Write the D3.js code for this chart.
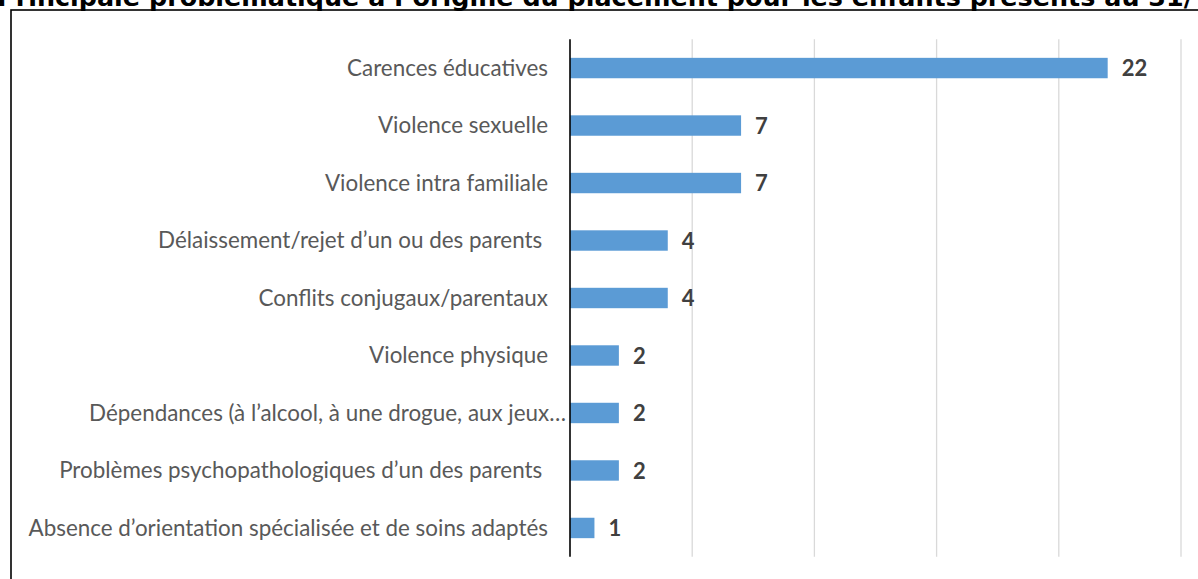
<!DOCTYPE html>
<html>
<head>
<meta charset="utf-8">
<script src="https://cdn.jsdelivr.net/npm/d3@7"></script>
<style>
  body { margin: 0; background: #fff; }
  svg { display: block; }
  text { white-space: pre; }
</style>
</head>
<body>
<svg id="chart"></svg>
<script>
// data
var categories = [
  "Carences éducatives",
  "Violence sexuelle",
  "Violence intra familiale",
  "Délaissement/rejet d’un ou des parents ",
  "Conflits conjugaux/parentaux",
  "Violence physique",
  "Dépendances (à l’alcool, à une drogue, aux jeux…",
  "Problèmes psychopathologiques d’un des parents ",
  "Absence d’orientation spécialisée et de soins adaptés"
];
var values = [22, 7, 7, 4, 4, 2, 2, 2, 1];
var ticks = [0, 5, 10, 15, 20, 25];
var titleStart = "Principale problématique à l’origine du placement pour les enfants présents au 31/";
var titleEnd = "12";

var width = 1198,
    height = 579;

var svg = d3.select("#chart").attr("width", width).attr("height", height);

// title, cut off at the top like in the original
svg.append("text").text(titleStart)
  .attr("x", -3).attr("y", 6)
  .attr("textLength", 1196).attr("lengthAdjust", "spacingAndGlyphs")
  .style("font-family", "DejaVu Sans").style("font-weight", "bold")
  .style("font-size", "25px").attr("fill", "#000");
svg.append("text").text(titleEnd)
  .attr("x", 1196).attr("y", 6)
  .style("font-family", "DejaVu Sans").style("font-weight", "bold")
  .style("font-size", "25px").attr("fill", "#000");

// chart border
svg.append("rect").attr("x", 11).attr("y", 10).attr("width", 1400).attr("height", 800)
  .attr("fill", "none").attr("stroke", "#000").attr("stroke-width", 1.6);

var x = d3.scaleLinear().domain([0, 25]).range([570, 1181]);
var y = d3.scaleBand().domain(categories).range([39.3, 556.7]).paddingInner(0.645).paddingOuter(0.3225);

// gridlines
svg.append("g").selectAll("line").data(ticks.slice(1)).enter().append("line")
  .attr("x1", function(d) { return x(d); }).attr("x2", function(d) { return x(d); })
  .attr("y1", 39.3).attr("y2", 556.7)
  .attr("stroke", "#d9d9d9").attr("stroke-width", 1.3);

// bars
svg.append("g").selectAll("rect").data(values).enter().append("rect")
  .attr("x", x(0))
  .attr("y", function(d, i) { return y(categories[i]); })
  .attr("width", function(d) { return x(d) - x(0); })
  .attr("height", y.bandwidth())
  .attr("fill", "#5b9bd5");

// category axis
svg.append("line").attr("x1", x(0)).attr("x2", x(0)).attr("y1", 39.3).attr("y2", 556.7)
  .attr("stroke", "#000").attr("stroke-width", 1.6);

svg.append("g").selectAll("text").data(categories).enter().append("text")
  .text(function(d) { return d; })
  .attr("x", function(d) { return d.slice(-1) == "…" ? 566 : 548; })
  .attr("y", function(d) { return y(d) + y.bandwidth() / 2; })
  .attr("dy", "0.35em")
  .attr("text-anchor", "end")
  .style("font-family", "Lato").style("font-size", "22.4px")
  .attr("fill", "#595959");

// value labels
svg.append("g").selectAll("text").data(values).enter().append("text")
  .text(function(d) { return d; })
  .attr("x", function(d) { return x(d) + 14; })
  .attr("y", function(d, i) { return y(categories[i]) + y.bandwidth() / 2; })
  .attr("dy", "0.37em")
  .style("font-family", "Lato").style("font-weight", "bold").style("font-size", "22px")
  .attr("fill", "#404040");
</script>
</body>
</html>
